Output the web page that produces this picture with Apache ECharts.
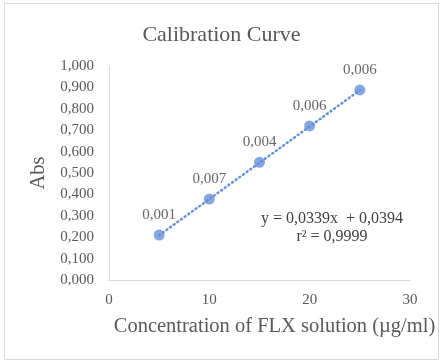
<!DOCTYPE html>
<html><head><meta charset="utf-8">
<script src="https://cdn.jsdelivr.net/npm/echarts@6/dist/echarts.min.js"></script>
<style>html,body{margin:0;padding:0;background:#fff}#c{width:443px;height:364px;}</style>
</head><body><div id="c"></div>
<script>
const concentrations = [5, 10, 15, 20, 25];
const absorbances = [0.210, 0.378, 0.550, 0.720, 0.888];
const sdLabels = ['0,001', '0,007', '0,004', '0,006', '0,006'];
const trendSlope = 0.0339;
const trendIntercept = 0.0394;
const trendRange = [5, 25];
const equationLines = ['y = 0,0339x  + 0,0394', 'r\u00b2 = 0,9999'];
const titleText = 'Calibration Curve';
const xName = 'Concentration of FLX solution (\u00b5g/ml)';
const yName = 'Abs';

const FONT = '"Liberation Serif", "Times New Roman", serif';
const TXT = '#595959';
const DARK = '#404040';
const BLUE = '#6790da';

const points = concentrations.map((x, i) => ({value: [x, absorbances[i]], label: {formatter: sdLabels[i]}}));
const trend = trendRange.map(x => [x, trendSlope * x + trendIntercept]);

const chart = echarts.init(document.getElementById('c'), null, {renderer: 'canvas'});
chart.setOption({
  animation: false,
  backgroundColor: '#fff',
  title: {text: titleText, left: 'center', top: 19,
    textStyle: {fontFamily: FONT, fontSize: 22, fontWeight: 'normal', color: TXT}},
  grid: {left: 109, right: 33, top: 66, bottom: 84, outerBoundsMode: 'none', containLabel: false},
  xAxis: {type: 'value', min: 0, max: 30, interval: 10,
    name: xName, nameLocation: 'middle', nameGap: 36,
    nameTextStyle: {fontFamily: FONT, fontSize: 20.5, color: TXT, padding: [0, 0, 0, 30]},
    axisLine: {show: true, lineStyle: {color: '#d9d9d9', width: 1}},
    axisTick: {show: false}, splitLine: {show: false},
    axisLabel: {fontFamily: FONT, fontSize: 15, color: TXT, margin: 13}},
  yAxis: {type: 'value', min: 0, max: 1, interval: 0.1,
    name: yName, nameLocation: 'middle', nameGap: 57, nameRotate: 90,
    nameTextStyle: {fontFamily: FONT, fontSize: 20.5, color: TXT},
    axisLine: {show: true, lineStyle: {color: '#d9d9d9', width: 1}},
    axisTick: {show: false}, splitLine: {show: false},
    axisLabel: {fontFamily: FONT, fontSize: 15, color: TXT, margin: 15,
      formatter: v => v.toFixed(3).replace('.', ',')}},
  series: [
    {type: 'line', data: trend, symbol: 'none', silent: true,
      lineStyle: {color: BLUE, width: 2.5, type: [1, 3.5], cap: 'round'}, z: 1},
    {type: 'scatter', data: points, symbolSize: 11, itemStyle: {color: BLUE}, z: 2,
      label: {show: true, position: 'top', distance: 7, fontFamily: FONT, fontSize: 15, color: DARK}}
  ],
  graphic: [
    {type: 'rect', shape: {x: 4.5, y: 3.5, width: 434, height: 356},
      style: {fill: 'none', stroke: '#d9d9d9', lineWidth: 1}, silent: true},
    {type: 'text', x: 332, y: 219, style: {text: equationLines[0], fontFamily: FONT, fontSize: 16,
      fill: DARK, align: 'center', verticalAlign: 'middle'}},
    {type: 'text', x: 332, y: 237, style: {text: equationLines[1], fontFamily: FONT, fontSize: 16,
      fill: DARK, align: 'center', verticalAlign: 'middle'}}
  ]
});
</script></body></html>
